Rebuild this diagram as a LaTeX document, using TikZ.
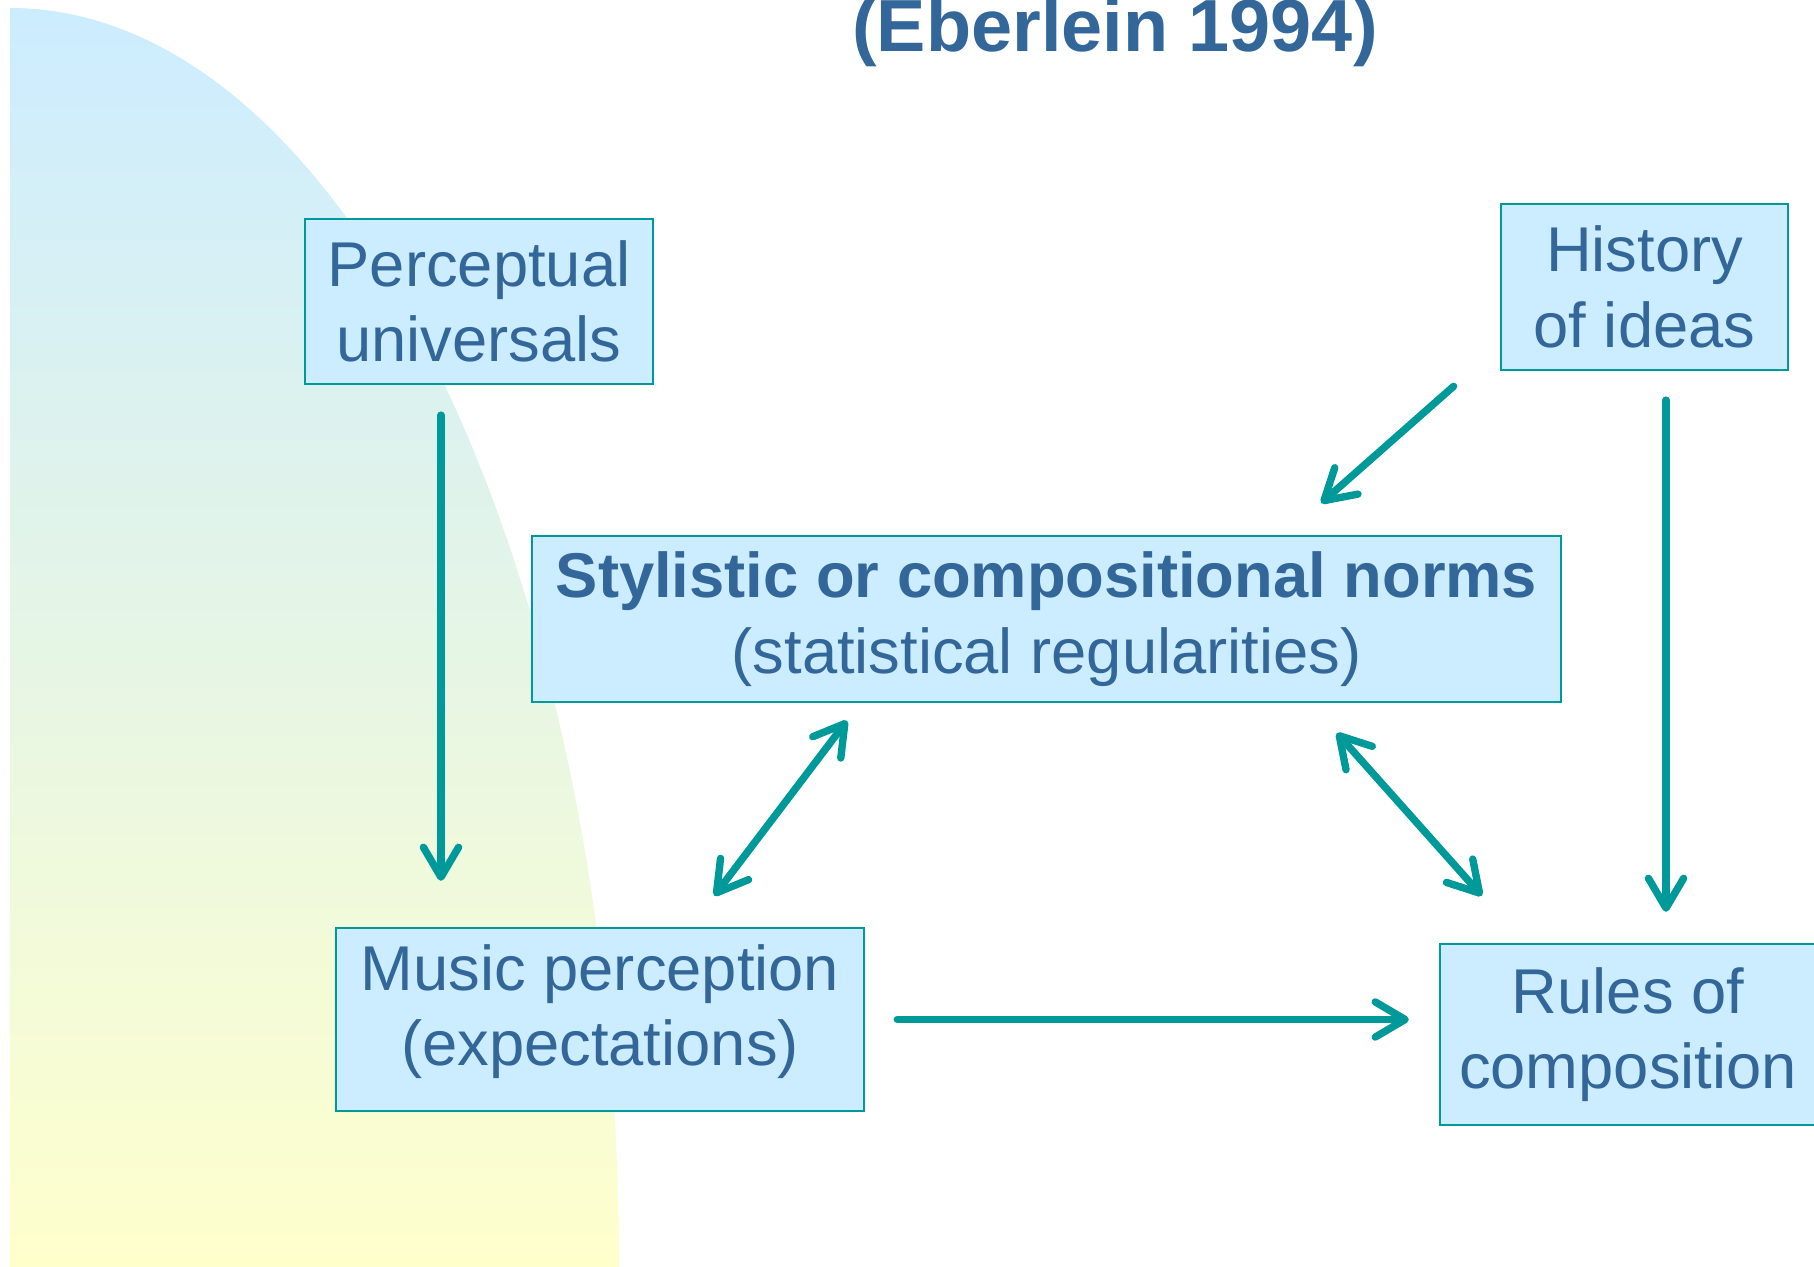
\documentclass[tikz,border=0pt]{standalone}
\usepackage{fontspec}
\setmainfont{Liberation Sans}
\usetikzlibrary{arrows.meta}

\definecolor{boxfill}{HTML}{CCECFF}
\definecolor{inkblue}{HTML}{336699}
\definecolor{linkteal}{HTML}{009999}
\definecolor{bgyellow}{HTML}{FFFFCC}

\tikzset{
  idea/.style={draw=linkteal, line width=0.6pt, fill=boxfill, text=inkblue,
    align=center, inner sep=0pt},
  link/.style={draw=linkteal, line width=2.1pt, line cap=round},
  >={Straight Barb[round,length=8.5pt,width=10pt]}
}

\begin{document}
\begin{tikzpicture}[x=0.01cm, y=-0.01cm, font=\fontsize{18}{21.5}\selectfont]
  \useasboundingbox (0,0) rectangle (1814,1267);
  % backdrop
  \shade[top color=boxfill, bottom color=bgyellow]
    (10,1267) -- (10,8) arc[start angle=-90, end angle=0, x radius=609, y radius=1259] -- cycle;
  \node[text=inkblue, font=\bfseries\fontsize{21}{25}\selectfont, anchor=base] (title) at (1115,52) {(Eberlein 1994)};

  \node[idea, minimum width=3.48cm, minimum height=1.65cm] (perc) at (479,301.5) {Perceptual\\universals};
  \node[idea, minimum width=2.87cm, minimum height=1.66cm] (hist) at (1644.5,287) {History\\of ideas};
  \node[idea, minimum width=10.29cm, minimum height=1.66cm] (norms) at (1046.5,619) {\textbf{Stylistic or compositional norms}\\(statistical regularities)};
  \node[idea, minimum width=5.28cm, minimum height=1.83cm, text depth=0.29cm] (music) at (600,1019.5) {Music perception\\(expectations)};
  \node[idea, minimum width=3.76cm, minimum height=1.81cm] (rules) at (1628,1034.5) {Rules of\\composition};

  \draw[link, ->, shorten <=0.3cm, shorten >=0.46cm] ([xshift=-0.38cm]perc.south) -- ([xshift=-0.38cm]perc.south |- music.north);
  \draw[link, ->, shorten <=0.29cm, shorten >=0.31cm] ([xshift=0.215cm]hist.south) -- ([xshift=0.215cm]hist.south |- rules.north);
  \draw[link, ->, shorten <=0.23cm, shorten >=0.48cm] ([xshift=-0.29cm]hist.south west) -- ([xshift=-2.77cm]norms.north east);
  \draw[link, <->, shorten <=0.22cm, shorten >=0.39cm] ([xshift=3.295cm]norms.south west) -- ([xshift=3.557cm]music.north west);
  \draw[link, <->, shorten <=0.40cm, shorten >=0.63cm] ([xshift=-2.52cm]norms.south east) -- ([xshift=0.85cm]rules.north west);
  \draw[link, ->, shorten <=0.32cm, shorten >=0.30cm] (music.east) -- (music.east -| rules.west);
\end{tikzpicture}
\end{document}
